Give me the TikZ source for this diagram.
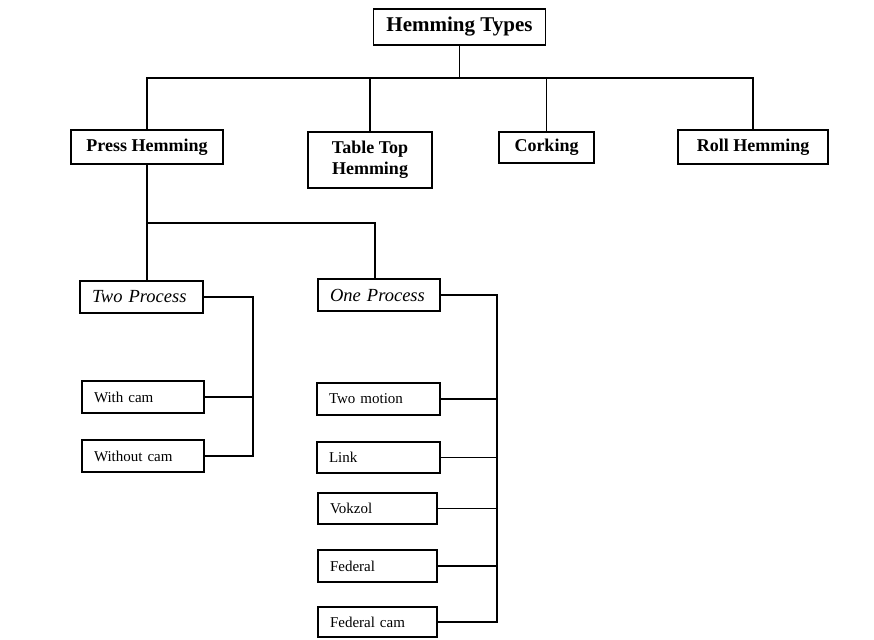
\documentclass[tikz,border=0pt]{standalone}
\usepackage{fontspec}
\setmainfont{Liberation Serif}
\begin{document}
\begin{tikzpicture}[x=1pt,y=-1pt,line width=1.8pt,
  box/.style={draw,line width=1.8pt,inner sep=0pt},
  headbox/.style={box,font=\fontsize{21}{24}\selectfont\bfseries,align=center},
  topbox/.style={box,font=\fontsize{18}{21}\selectfont\bfseries,align=center},
  procbox/.style={box,font=\fontsize{18.5}{21}\selectfont\itshape,align=left,inner xsep=12pt},
  leafbox/.style={box,font=\fontsize{15}{17}\selectfont,align=left,inner xsep=12pt},
  link/.style={line width=1.8pt}]
\useasboundingbox (0,0) rectangle (874,639);
\fill[white] (0,0) rectangle (874,639);

% level 0
\node[headbox,minimum width=172pt,minimum height=36pt] (ht) at (459.5,27) {Hemming Types};
% level 1
\node[topbox,minimum width=152pt,minimum height=34pt] (press) at (147,147) {Press Hemming};
\node[topbox,minimum width=124pt,minimum height=56pt] (table) at (370,160) {Table Top\\Hemming};
\node[topbox,minimum width=95pt,minimum height=31pt] (cork) at (546.5,147.5) {Corking};
\node[topbox,minimum width=150pt,minimum height=34pt] (roll) at (753,147) {Roll Hemming};
% level 2
\node[procbox,text width=99pt,minimum height=32pt] (two) at (141.5,297) {Two Process};
\node[procbox,text width=98pt,minimum height=32pt] (one) at (379,295) {One Process};
% leaves of two process
\node[leafbox,text width=98pt,minimum height=32pt] (withcam) at (143,397) {With cam};
\node[leafbox,text width=98pt,minimum height=32pt] (without) at (143,456) {Without cam};
% leaves of one process
\node[leafbox,text width=99pt,minimum height=32pt] (twomotion) at (378.5,399) {Two motion};
\node[leafbox,text width=99pt,minimum height=31pt] (linkb) at (378.5,457.5) {Link};
\node[leafbox,text width=95pt,minimum height=31pt] (vokzol) at (377.5,508.5) {Vokzol};
\node[leafbox,text width=95pt,minimum height=32pt] (federal) at (377.5,566) {Federal};
\node[leafbox,text width=95pt,minimum height=30pt] (fedcam) at (377.5,622) {Federal cam};

% connectors level 0 -> 1
\coordinate (bar) at (0,78);
\draw[link] (ht.south) -- (ht.south |- bar);
\draw[link] (press.north) -- (press.north |- bar) -- (roll.north |- bar) -- (roll.north);
\draw[link] (table.north) -- (table.north |- bar);
\draw[link] (cork.north) -- (cork.north |- bar);

% press -> two / one
\coordinate (bar2) at (0,223);
\coordinate (onestem) at (375,0);
\draw[link] (press.south) -- (press.south |- bar2) -- (onestem |- bar2) -- (onestem |- one.north);
\draw[link] (press.south |- bar2) -- (press.south |- two.north);

% two process rail
\coordinate (rail1) at (253,0);
\draw[link] (two.east) -- (two.east -| rail1) -- (rail1 |- without.east) -- (without.east);
\draw[link] (withcam.east) -- (withcam.east -| rail1);

% one process rail
\coordinate (rail2) at (497,0);
\draw[link] (one.east) -- (one.east -| rail2) -- (rail2 |- fedcam.east) -- (fedcam.east);
\draw[link] (twomotion.east) -- (twomotion.east -| rail2);
\draw[link] (linkb.east) -- (linkb.east -| rail2);
\draw[link] (vokzol.east) -- (vokzol.east -| rail2);
\draw[link] (federal.east) -- (federal.east -| rail2);
\end{tikzpicture}
\end{document}
